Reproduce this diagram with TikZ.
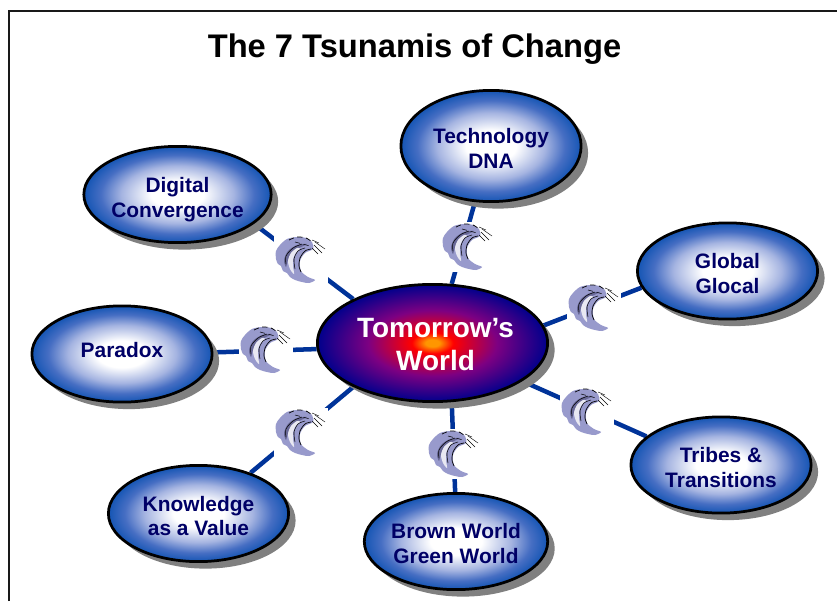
\documentclass[tikz,border=0pt]{standalone}
\usepackage{fontspec}
\setmainfont{Liberation Sans}
\usetikzlibrary{shapes}
\usetikzlibrary{shadows}
\usetikzlibrary{backgrounds}
\definecolor{navytext}{RGB}{0,0,102}
\definecolor{edgeblue}{RGB}{0,51,153}
\definecolor{wavebody}{RGB}{152,154,204}
\definecolor{wavedark}{RGB}{104,104,150}
\definecolor{wavelight}{RGB}{232,232,242}
\definecolor{satmida}{RGB}{165,180,225}
\definecolor{satmidb}{RGB}{70,110,195}
\definecolor{satedge}{RGB}{20,85,180}
\definecolor{huborange}{RGB}{255,150,0}
\definecolor{hubred}{RGB}{255,0,0}
\definecolor{hubpurple}{RGB}{125,0,130}
\definecolor{hubnavy}{RGB}{0,0,140}
\pgfdeclareradialshading{sphereblue}{\pgfpointorigin}{%
  color(0bp)=(white); color(7bp)=(white); color(15bp)=(satmida);
  color(20.5bp)=(satmidb); color(25bp)=(satedge); color(50bp)=(satedge)}
\pgfdeclareradialshading{spherehub}{\pgfpointorigin}{%
  color(0bp)=(huborange); color(1.5bp)=(huborange); color(4.5bp)=(hubred); color(14bp)=(hubpurple); color(25bp)=(hubnavy); color(50bp)=(hubnavy)}
\newcommand{\wavemark}[1]{%
  \begin{scope}[shift={(#1.center)},shift={(-26,-24)}]
  \fill[wavebody] plot[smooth cycle,tension=0.5] coordinates {(22,1) (31,2) (37,6) (38,13) (30,17) (25,25) (26,35) (33,41) (40,44)
    (34,47) (27,46) (20,44) (15,41) (12,37) (8,35) (6,30) (3,28) (1,23) (1,15) (5,9) (12,3)};
  \fill[wavedark] plot[smooth cycle,tension=0.5] coordinates {(32,8) (22,9) (13,15) (9,24) (11,31) (13,24) (17,16) (24,12)};
  \fill[wavelight] plot[smooth cycle,tension=0.5] coordinates {(22,12) (16,17) (13,25) (15,33) (19,38) (18,30) (18,24) (20,18) (25,13)};
  \draw[black,line width=0.4pt] plot[smooth] coordinates {(36,13) (30,15) (25,22) (24,30) (26,36)};
  \draw[black,line width=0.3pt] plot[smooth] coordinates {(27,8) (18,12) (11,20) (11,28)};
  \draw[black,line width=0.3pt] plot[smooth] coordinates {(30,12) (23,15) (19,23) (20,33)};
  \draw[black,line width=0.4pt,densely dashed] plot[smooth] coordinates {(14,4) (22,1) (31,2) (37,6)};
  \draw[black,line width=0.3pt,densely dashed] (20,6) -- (35,10);
  \draw[black,line width=0.25pt] (37,4) -- (44,7);
  \draw[black,line width=0.25pt] (40,6) -- (50,13);
  \draw[black,line width=0.25pt] (39,9) -- (47,17);
  \draw[black,line width=0.25pt] (37,12) -- (43,18);
  \end{scope}
}
\tikzset{
    mynodes/.style = {ellipse, line width=0.055cm, draw=black, align=center, inner sep=0pt, minimum width=3.605cm, minimum height=1.925cm,
        shading=sphereblue, drop shadow={shadow xshift=0.14cm,shadow yshift=-0.14cm,opacity=1,fill=black!50},
        text=navytext, font=\fontsize{11.9}{14.2}\selectfont\bfseries},
    mynodeh/.style = {ellipse, line width=0.055cm, draw=black, align=center, inner sep=0pt, minimum width=4.605cm, minimum height=2.345cm,
        shading=spherehub, drop shadow={shadow xshift=0.14cm,shadow yshift=-0.14cm,opacity=1,fill=black!50},
        text=white, font=\fontsize{15.9}{19}\selectfont\bfseries},
    textdown/.style = {execute at begin node={\rule{0pt}{#1}}},
    mywave/.style = {rectangle, fill=white, inner sep=0pt, minimum width=1.08cm, minimum height=1cm},
    edgel/.style = {-,line width=0.09cm,edgeblue},
    frameline/.style = {-,line width=0.035cm,black!90}
}
\begin{document}
\begin{tikzpicture}[x=0.02cm,y=-0.02cm]
  \useasboundingbox (0,0) rectangle (837,601);
  \coordinate (framea) at (9,601);
  \coordinate (frameb) at (837,11);
  \draw[frameline] (framea) |- (frameb);
  \node[font=\fontsize{18.6}{22}\selectfont\bfseries] (title) at (414.5,49) {The 7 Tsunamis of Change};
  \node[mynodeh, textdown=32pt] (hub) at (432.5,343) {\hspace*{0.12cm}Tomorrow’s\\\hspace*{0.12cm}World};
  \node[mynodes, textdown=25.7pt, minimum height=2.225cm] (tech) at (491,146) {Technology\\DNA};
  \node[mynodes, textdown=25.7pt] (glob) at (727.5,271) {Global\\Glocal};
  \node[mynodes, textdown=25.7pt] (trib) at (721,465) {Tribes \&\\Transitions};
  \node[mynodes, textdown=25pt] (brow) at (456,541.5) {Brown World\\Green World};
  \node[mynodes, textdown=25.7pt] (know) at (198.5,513.5) {Knowledge\\as a Value};
  \node[mynodes, execute at end node={\rule[-4.2pt]{0pt}{4.2pt}}] (para) at (122,354) {Paradox};
  \node[mynodes, textdown=28.6pt] (digi) at (177.5,194.5) {Digital\\Convergence};
  \node[mywave] (wavetech) at (468,247) {};
  \node[mywave] (waveglob) at (594,308) {};
  \node[mywave] (wavetrib) at (587,412) {};
  \node[mywave] (wavebrow) at (454,454) {};
  \node[mywave] (waveknow) at (301,433) {};
  \node[mywave] (wavepara) at (266,350) {};
  \node[mywave] (wavedigi) at (301,260) {};
  \wavemark{wavetech}
  \wavemark{waveglob}
  \wavemark{wavetrib}
  \wavemark{wavebrow}
  \wavemark{waveknow}
  \wavemark{wavepara}
  \wavemark{wavedigi}
  \begin{pgfonlayer}{background}
    \draw[edgel] (hub.72.9) -- (tech.254.3);
    \draw[edgel] (hub.9.3) -- (glob.191.2);
    \draw[edgel] (hub.-23.9) -- (trib.159.8);
    \draw[edgel] (hub.-72.9) -- (brow.91);
    \draw[edgel] (hub.209.1) -- (know.38.9);
    \draw[edgel] (hub.183) -- (para.1.3);
    \draw[edgel] (hub.151.9) -- (digi.-21.4);
  \end{pgfonlayer}
\end{tikzpicture}
\end{document}
